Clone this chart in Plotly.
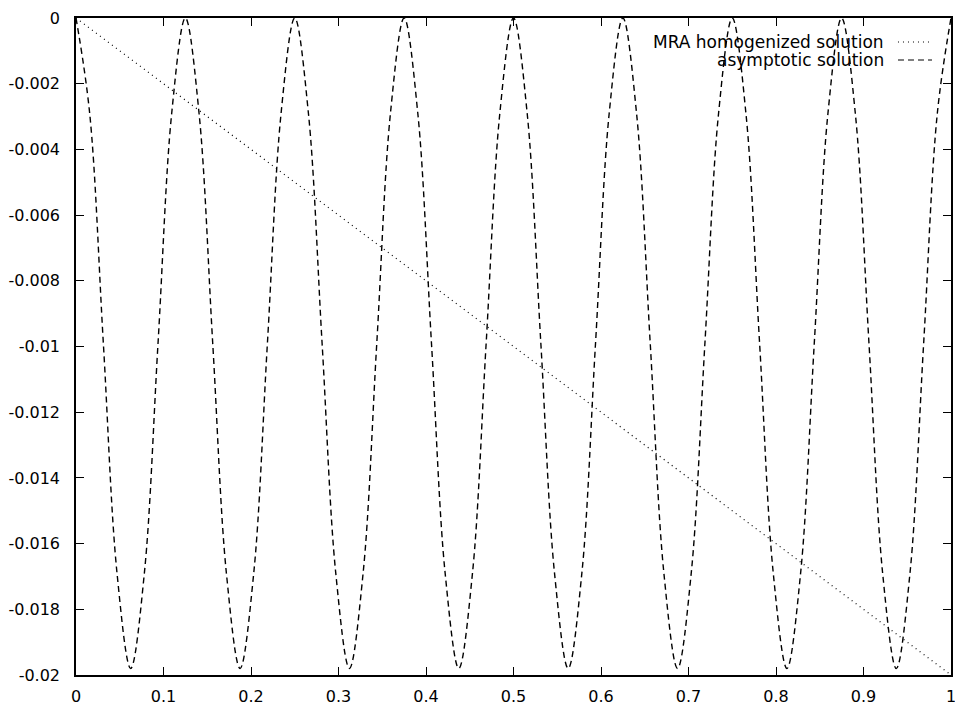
import plotly.graph_objects as go

# ---- data ----
x_asym = [i / 64 for i in range(65)]
y_asym = [
    0.0, -0.0029, -0.0099, -0.0169, -0.0198, -0.0169, -0.0099, -0.0029,
    0.0, -0.0029, -0.0099, -0.0169, -0.0198, -0.0169, -0.0099, -0.0029,
    0.0, -0.0029, -0.0099, -0.0169, -0.0198, -0.0169, -0.0099, -0.0029,
    0.0, -0.0029, -0.0099, -0.0169, -0.0198, -0.0169, -0.0099, -0.0029,
    0.0, -0.0029, -0.0099, -0.0169, -0.0198, -0.0169, -0.0099, -0.0029,
    0.0, -0.0029, -0.0099, -0.0169, -0.0198, -0.0169, -0.0099, -0.0029,
    0.0, -0.0029, -0.0099, -0.0169, -0.0198, -0.0169, -0.0099, -0.0029,
    0.0, -0.0029, -0.0099, -0.0169, -0.0198, -0.0169, -0.0099, -0.0029,
    0.0,
]
x_mra = [0.0, 1.0]
y_mra = [0.0, -0.02]

x_tickvals = [0, 0.1, 0.2, 0.3, 0.4, 0.5, 0.6, 0.7, 0.8, 0.9, 1.0]
x_ticktext = ["0", "0.1", "0.2", "0.3", "0.4", "0.5", "0.6", "0.7", "0.8", "0.9", "1"]
y_tickvals = [0, -0.002, -0.004, -0.006, -0.008, -0.01, -0.012, -0.014, -0.016, -0.018, -0.02]
y_ticktext = ["0", "-0.002", "-0.004", "-0.006", "-0.008", "-0.01", "-0.012", "-0.014",
              "-0.016", "-0.018", "-0.02"]
legend_labels = ["MRA homogenized solution", "asymptotic solution"]

FONT = "DejaVu Sans, Liberation Sans, sans-serif"
TICK_SIZE = 16
KEY_SIZE = 17

fig = go.Figure()
fig.add_trace(go.Scatter(x=x_mra, y=y_mra, mode="lines", showlegend=False,
                         line=dict(color="black", width=1.2, dash="1px,4px")))
fig.add_trace(go.Scatter(x=x_asym, y=y_asym, mode="lines", showlegend=False,
                         line=dict(color="black", width=1.4, dash="6px,4px", shape="spline")))

axis_common = dict(showgrid=False, zeroline=False, showline=True, linecolor="black",
                   linewidth=1.5, mirror="ticks", ticks="inside", ticklen=8,
                   tickwidth=1.2, tickcolor="black", automargin=False,
                   ticklabeloverflow="allow",
                   tickfont=dict(family=FONT, size=TICK_SIZE, color="black"))
fig.update_xaxes(range=[0, 1], tickmode="array", tickvals=x_tickvals,
                 ticktext=x_ticktext, ticklabelstandoff=6, **axis_common)
fig.update_yaxes(range=[-0.02, 0], tickmode="array", tickvals=y_tickvals,
                 ticktext=y_ticktext, ticklabelstandoff=11, **axis_common)

# gnuplot-style key: right-aligned text, sample line to its right
rows_y = [0.9635, 0.9361]
dashes = ["1px,4px", "6px,4px"]
for lab, yy, dsh in zip(legend_labels, rows_y, dashes):
    fig.add_annotation(xref="paper", yref="paper", x=0.9257, y=yy, text=lab,
                       showarrow=False, xanchor="right", yanchor="middle",
                       font=dict(family=FONT, size=KEY_SIZE, color="black"))
    fig.add_shape(type="line", xref="paper", yref="paper", x0=0.9394, x1=0.9783,
                  y0=yy, y1=yy, line=dict(color="black", width=1.2, dash=dsh))

# page body has an 8px margin, so the figure is offset by 8px in the window
fig.update_layout(width=963, height=708, paper_bgcolor="white", plot_bgcolor="white",
                  margin=dict(l=68, r=20, t=10, b=41, autoexpand=False), showlegend=False)

fig.write_html("out.html")
